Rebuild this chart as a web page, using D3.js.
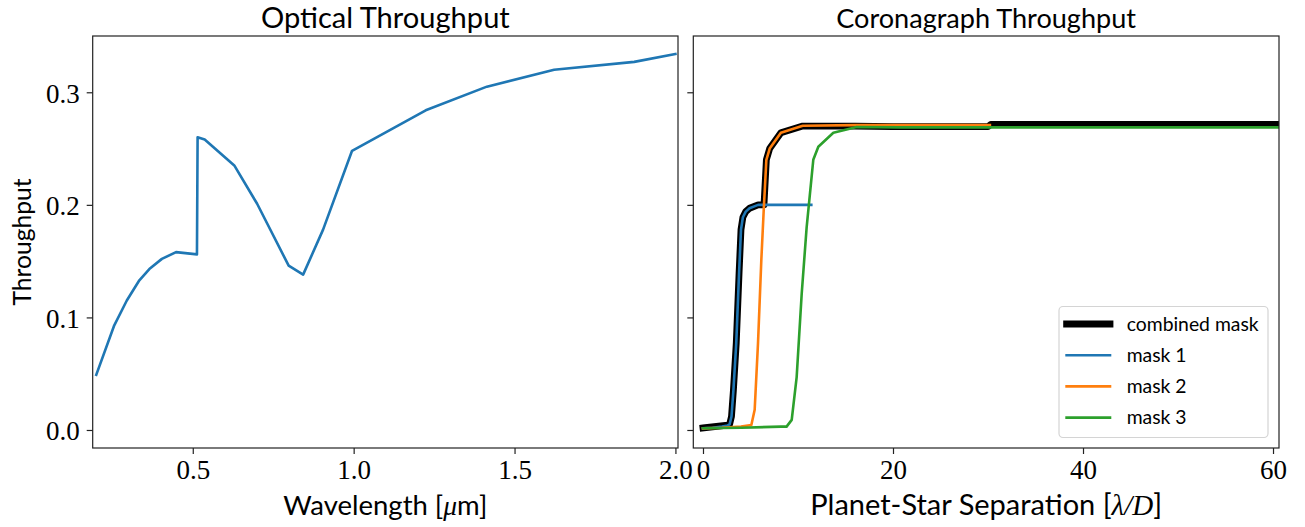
<!DOCTYPE html>
<html>
<head>
<meta charset="utf-8">
<script src="https://cdn.jsdelivr.net/npm/d3@7"></script>
<style>
  html, body { margin: 0; padding: 0; background: #fff; }
  svg { display: block; }
</style>
</head>
<body>
<svg id="chart" width="1305" height="527"></svg>
<script>
// Optical throughput vs wavelength
const wavelength = [0.200, 0.256, 0.295, 0.334, 0.365, 0.404, 0.448, 0.513, 0.515, 0.537, 0.629, 0.700, 0.798, 0.843, 0.905, 0.995, 1.224, 1.414, 1.623, 1.872, 2.000];
const opticalThroughput = [0.049, 0.093, 0.115, 0.133, 0.143, 0.152, 0.158, 0.156, 0.260, 0.258, 0.235, 0.201, 0.146, 0.138, 0.178, 0.248, 0.284, 0.305, 0.320, 0.327, 0.334];

// Coronagraph throughput vs planet-star separation (lambda/D)
const combinedSep = [0, 2.6, 2.8, 3.0, 3.2, 3.5, 3.8, 4.0, 4.2, 4.5, 4.9, 5.8, 6.42, 6.67, 7.02, 8.2, 10.5, 16.0, 20.0, 30.0, 30.3, 60.6];
const combinedVal = [0.0018, 0.0044, 0.005, 0.012, 0.035, 0.077, 0.140, 0.178, 0.189, 0.194, 0.197, 0.200, 0.200, 0.240, 0.250, 0.264, 0.270, 0.2700, 0.2695, 0.2695, 0.2715, 0.2715];

const mask1Sep = [0, 1.0, 2.0, 2.6, 2.8, 3.0, 3.2, 3.5, 3.8, 4.0, 4.2, 4.5, 4.9, 5.8, 8.0, 11.4];
const mask1Val = [0.0015, 0.002, 0.003, 0.004, 0.005, 0.012, 0.035, 0.077, 0.140, 0.178, 0.189, 0.194, 0.197, 0.200, 0.200, 0.200];

const mask2Sep = [0, 2.0, 4.0, 5.09, 5.44, 5.79, 6.14, 6.39, 6.67, 7.02, 8.2, 10.5, 16.0, 22.0, 30.2];
const mask2Val = [0.0015, 0.002, 0.003, 0.0044, 0.018, 0.077, 0.151, 0.195, 0.240, 0.250, 0.264, 0.2703, 0.2708, 0.2708, 0.2708];

const mask3Sep = [0, 4.0, 8.2, 8.8, 9.34, 9.86, 10.39, 10.91, 11.26, 11.61, 12.14, 13.72, 16.18, 20.7, 30.0, 60.6];
const mask3Val = [0.0015, 0.002, 0.003, 0.003, 0.009, 0.047, 0.121, 0.180, 0.210, 0.240, 0.2516, 0.264, 0.2692, 0.2688, 0.2688, 0.2688];

const yTicks = [0.0, 0.1, 0.2, 0.3];
const xTicksLeft = [0.5, 1.0, 1.5, 2.0];
const xTicksRight = [0, 20, 40, 60];

const legendLabels = ["combined mask", "mask 1", "mask 2", "mask 3"];
const seriesColors = ["#000000", "#1f77b4", "#ff7f0e", "#2ca02c"];
const seriesWidths = [6.8, 2.6, 2.6, 2.6];

const SANS = "Lato, 'Open Sans', sans-serif";
const SERIF = "'Liberation Serif', 'DejaVu Serif', serif";

const svg = d3.select("#chart");

const plotTop = 36, plotBottom = 448;
const leftPanel = { x0: 92.7, x1: 678 };
const rightPanel = { x0: 693.3, x1: 1279 };

const y = d3.scaleLinear().domain([-0.016, 0.350]).range([plotBottom, plotTop]);
const xL = d3.scaleLinear().domain([0.189, 2.008]).range([leftPanel.x0, leftPanel.x1]);
const xR = d3.scaleLinear().domain([-1.02, 60.63]).range([rightPanel.x0, rightPanel.x1]);

// shrink or grow a text element's font size so it spans a given width
function fitWidth(sel, target) {
  const w = sel.node().getComputedTextLength();
  const fs = parseFloat(sel.attr("font-size"));
  if (w > 0) sel.attr("font-size", fs * target / w);
}

function styleAxis(g) {
  g.selectAll(".domain").remove();
  g.selectAll(".tick line").attr("stroke", "#222").attr("stroke-width", 1.2);
  g.selectAll(".tick text").attr("font-family", SERIF).attr("font-size", 27).attr("fill", "#000");
}

function panel(x, panelBox, ticks, fmt, showYLabels) {
  const g = svg.append("g");
  const xa = g.append("g")
    .attr("transform", `translate(0,${plotBottom})`)
    .call(d3.axisBottom(x).tickValues(ticks).tickSize(6).tickPadding(6).tickFormat(fmt));
  styleAxis(xa);
  const ya = g.append("g")
    .attr("transform", `translate(${panelBox.x0},0)`)
    .call(d3.axisLeft(y).tickValues(yTicks).tickSize(6).tickPadding(7)
      .tickFormat(showYLabels ? d3.format(".1f") : () => ""));
  styleAxis(ya);
  ya.selectAll(".tick text").attr("dy", "0.36em");
  return g;
}

panel(xL, leftPanel, xTicksLeft, d3.format(".1f"), true);
panel(xR, rightPanel, xTicksRight, d3.format("d"), false);

// clip paths for the plotting areas
const defs = svg.append("defs");
[["clipL", leftPanel], ["clipR", rightPanel]].forEach(([id, p]) => {
  defs.append("clipPath").attr("id", id).append("rect")
    .attr("x", p.x0).attr("y", plotTop).attr("width", p.x1 - p.x0).attr("height", plotBottom - plotTop);
});

// optical throughput line
const lineL = d3.line().x((d, i) => xL(wavelength[i])).y(d => y(d));
svg.append("path")
  .attr("clip-path", "url(#clipL)")
  .attr("d", lineL(opticalThroughput))
  .attr("fill", "none").attr("stroke", "#1f77b4").attr("stroke-width", 2.6)
  .attr("stroke-linecap", "square").attr("stroke-linejoin", "round");

// coronagraph throughput curves
const seriesR = [
  [combinedSep, combinedVal],
  [mask1Sep, mask1Val],
  [mask2Sep, mask2Val],
  [mask3Sep, mask3Val]
];
const gCurves = svg.append("g").attr("clip-path", "url(#clipR)");
seriesR.forEach(([sx, sy], k) => {
  const line = d3.line().x((d, i) => xR(sx[i])).y(d => y(d));
  gCurves.append("path")
    .attr("d", line(sy))
    .attr("fill", "none").attr("stroke", seriesColors[k]).attr("stroke-width", seriesWidths[k])
    .attr("stroke-linecap", "square").attr("stroke-linejoin", "round");
});

// frames
[leftPanel, rightPanel].forEach(p => {
  svg.append("rect")
    .attr("x", p.x0).attr("y", plotTop).attr("width", p.x1 - p.x0).attr("height", plotBottom - plotTop)
    .attr("fill", "none").attr("stroke", "#222").attr("stroke-width", 1.2);
});

// titles
const t1 = svg.append("text").attr("x", (leftPanel.x0 + leftPanel.x1) / 2).attr("y", 28)
  .attr("text-anchor", "middle").attr("font-family", SANS).attr("font-size", 26)
  .text("Optical Throughput");
fitWidth(t1, 249);
const t2 = svg.append("text").attr("x", (rightPanel.x0 + rightPanel.x1) / 2).attr("y", 28)
  .attr("text-anchor", "middle").attr("font-family", SANS).attr("font-size", 26)
  .text("Coronagraph Throughput");
fitWidth(t2, 300);

// x axis labels
const xl1 = svg.append("text").attr("x", (leftPanel.x0 + leftPanel.x1) / 2).attr("y", 515)
  .attr("text-anchor", "middle").attr("font-family", SANS).attr("font-size", 26);
xl1.append("tspan").text("Wavelength [");
xl1.append("tspan").attr("font-family", SERIF).attr("font-style", "italic").text("μ");
xl1.append("tspan").text("m]");
fitWidth(xl1, 204);

const xl2 = svg.append("text").attr("x", (rightPanel.x0 + rightPanel.x1) / 2).attr("y", 515)
  .attr("text-anchor", "middle").attr("font-family", SANS).attr("font-size", 26);
xl2.append("tspan").text("Planet-Star Separation [");
xl2.append("tspan").attr("font-family", SERIF).attr("font-style", "italic").text("λ/D");
xl2.append("tspan").text("]");
fitWidth(xl2, 352);

// y axis label
const yl = svg.append("text").attr("transform", `translate(31,${(plotTop + plotBottom) / 2}) rotate(-90)`)
  .attr("text-anchor", "middle").attr("font-family", SANS).attr("font-size", 26)
  .text("Throughput");
fitWidth(yl, 127);

// legend
const leg = svg.append("g");
leg.append("rect").attr("x", 1059).attr("y", 306.5).attr("width", 209).attr("height", 131)
  .attr("rx", 4).attr("fill", "#fff").attr("fill-opacity", 0.8)
  .attr("stroke", "#d4d4d4").attr("stroke-width", 1.2);
const legTexts = [];
legendLabels.forEach((lab, k) => {
  const cy = 324 + k * 31.2;
  leg.append("line").attr("x1", 1066.6).attr("x2", 1110).attr("y1", cy).attr("y2", cy)
    .attr("stroke", seriesColors[k]).attr("stroke-width", seriesWidths[k])
    .attr("stroke-linecap", "square");
  legTexts.push(leg.append("text").attr("x", 1126.7).attr("y", cy + 6.5)
    .attr("font-family", SANS).attr("font-size", 19).text(lab));
});
fitWidth(legTexts[0], 132);
const legFs = legTexts[0].attr("font-size");
legTexts.forEach(t => t.attr("font-size", legFs));
</script>
</body>
</html>
